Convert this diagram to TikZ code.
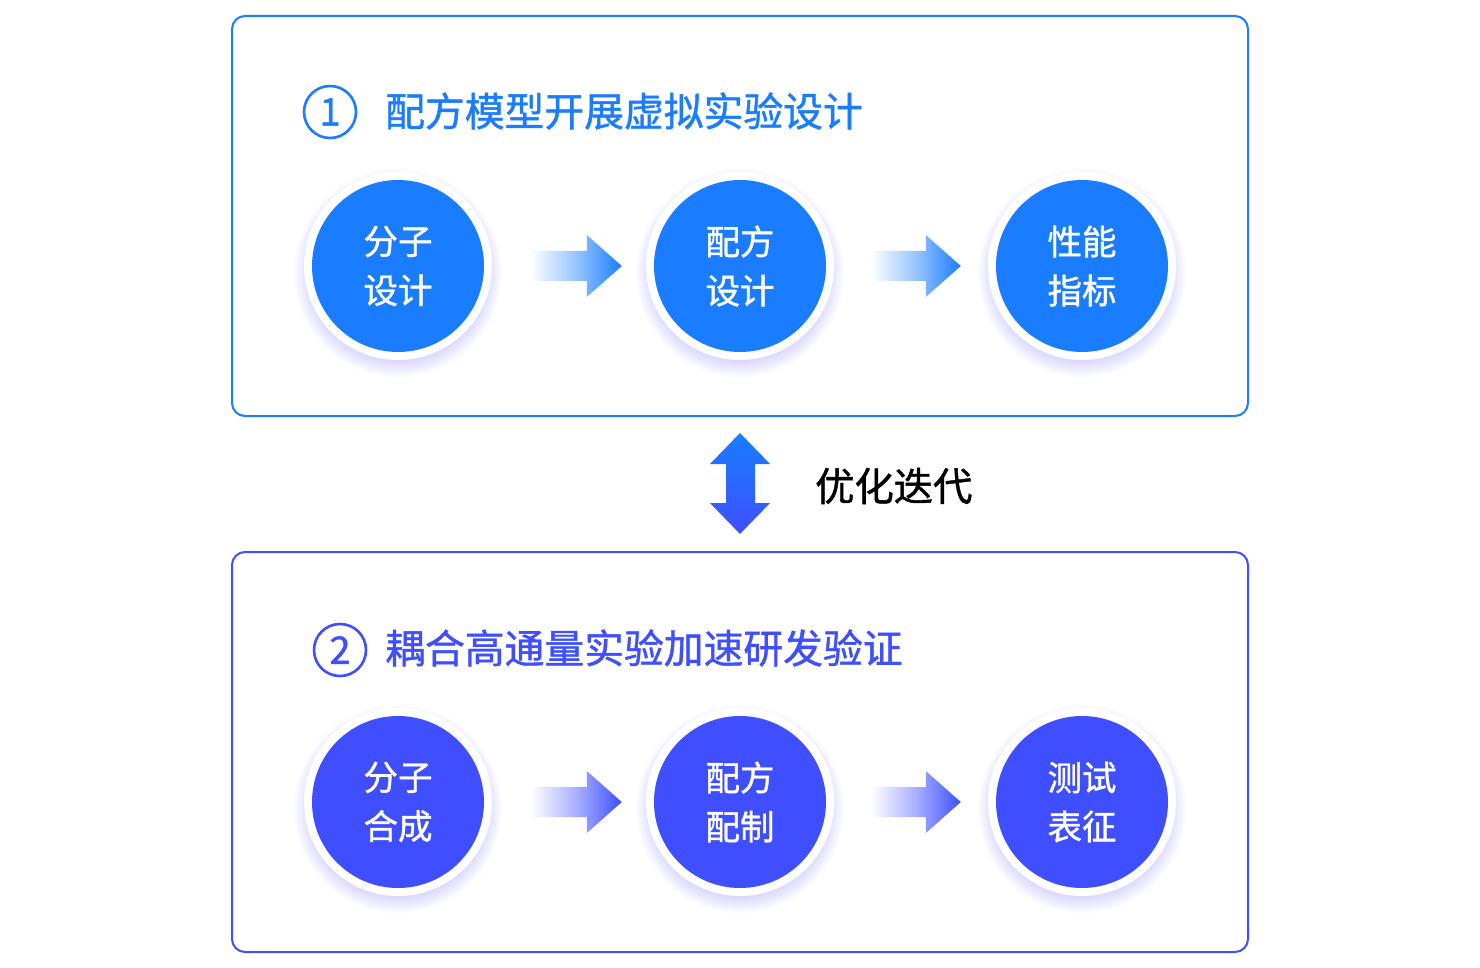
\documentclass[tikz,border=0pt]{standalone}
\usepackage{fontspec}
\newfontfamily\cjk{Noto Sans CJK SC}
\newfontfamily\cjkb[FakeBold=1.1]{Noto Sans CJK SC}
\usetikzlibrary{calc}
\definecolor{blueA}{RGB}{26,125,255}
\definecolor{blueB}{RGB}{63,79,255}
\definecolor{glowc}{RGB}{150,130,255}
\tikzset{
  panel/.style={draw=#1, line width=2pt, rounded corners=13pt, minimum width=1016pt, minimum height=400pt, inner sep=0pt},
  ring/.style={circle, fill=white, minimum size=188pt, inner sep=0pt},
  disc/.style={circle, fill=#1, minimum size=172pt, inner sep=0pt, text=white, align=center, font=\cjkb\fontsize{34.5}{49}\selectfont},
  numc/.style={circle, draw=#1, line width=2.6pt, minimum size=52pt, inner sep=0pt, text=#1, font=\cjkb\fontsize{38}{40}\selectfont},
  titletxt/.style={anchor=west, inner sep=0pt, text=#1, font=\cjkb\fontsize{39.8}{44}\selectfont},
}
\newcommand\glowat[1]{%
  \foreach \k in {1,...,14}{\fill[glowc, opacity=0.024] ($(#1)+(0,7)$) circle ({86+1.3*\k});}%
}
\newcommand\gradarrow[3]{%
  \shade[left color=white, right color=#3, middle color=#3!45]
    ($(#1)+(0,-15)$) -- ($(#2)+(-35,-15)$) -- ($(#2)+(-35,-31)$) -- (#2)
    -- ($(#2)+(-35,31)$) -- ($(#2)+(-35,15)$) -- ($(#1)+(0,15)$) -- cycle;%
}
\begin{document}
\begin{tikzpicture}[x=1pt,y=-1pt]
\useasboundingbox (0,0) rectangle (1480,968);
\fill[white] (0,0) rectangle (1480,968);

% panels
\node[panel=blueA] (p1) at (740,216) {};
\node[panel=blueB] (p2) at (740,752) {};

% titles
\node[numc=blueA] (n1) at (330,112) {1};
\node[titletxt=blueA] (t1) at (385,111) {配方模型开展虚拟实验设计};
\node[numc=blueB] (n2) at (340,650) {2};
\node[titletxt=blueB] (t2) at (385,648) {耦合高通量实验加速研发验证};

% glows
\foreach \x in {398,740,1082}{\glowat{\x,266}\glowat{\x,802}}

% row 1
\node[ring] (r1) at (398,266) {};
\node[ring] (r2) at (740,266) {};
\node[ring] (r3) at (1082,266) {};
\node[disc=blueA] (a1) at (398,266) {分子\\设计};
\node[disc=blueA] (a2) at (740,266) {配方\\设计};
\node[disc=blueA] (a3) at (1082,266) {性能\\指标};

% row 2
\node[ring] (s1) at (398,802) {};
\node[ring] (s2) at (740,802) {};
\node[ring] (s3) at (1082,802) {};
\node[disc=blueB] (b1) at (398,802) {分子\\合成};
\node[disc=blueB] (b2) at (740,802) {配方\\配制};
\node[disc=blueB] (b3) at (1082,802) {测试\\表征};

% arrows
\coordinate (ua1) at ($(r1.east)+(38,0)$);
\coordinate (ub1) at ($(r2.west)+(-24,0)$);
\coordinate (ua2) at ($(r2.east)+(36,0)$);
\coordinate (ub2) at ($(r3.west)+(-27,0)$);
\gradarrow{ua1}{ub1}{blueA}
\gradarrow{ua2}{ub2}{blueA}
\coordinate (va1) at ($(s1.east)+(38,0)$);
\coordinate (vb1) at ($(s2.west)+(-24,0)$);
\coordinate (va2) at ($(s2.east)+(36,0)$);
\coordinate (vb2) at ($(s3.west)+(-27,0)$);
\gradarrow{va1}{vb1}{blueB}
\gradarrow{va2}{vb2}{blueB}

% double arrow between panels
\coordinate (dtop) at ($(p1.south)+(0,16)$);
\coordinate (dbot) at ($(p2.north)+(0,-17)$);
\shade[top color=blueA, bottom color=blueB]
  (dtop) -- ($(dtop)+(30,31)$) -- ($(dtop)+(15,31)$) -- ($(dbot)+(15,-31)$) -- ($(dbot)+(30,-31)$)
  -- (dbot) -- ($(dbot)+(-30,-31)$) -- ($(dbot)+(-14,-31)$) -- ($(dtop)+(-14,31)$) -- ($(dtop)+(-30,31)$) -- cycle;
\node[anchor=west, inner sep=0pt, font=\cjkb\fontsize{39.3}{44}\selectfont] (opt) at (815,486) {优化迭代};
\end{tikzpicture}
\end{document}
